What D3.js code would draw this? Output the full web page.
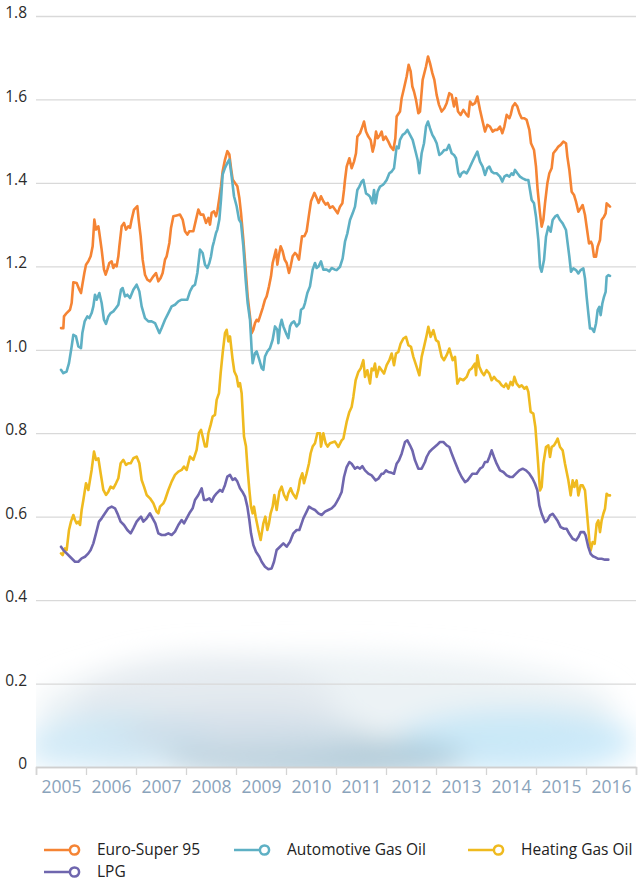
<!DOCTYPE html>
<html>
<head>
<meta charset="utf-8">
<script src="https://cdn.jsdelivr.net/npm/d3@7/dist/d3.min.js"></script>
<style>
  html, body { margin: 0; padding: 0; background: #ffffff; }
  svg { display: block; font-family: "Open Sans", "DejaVu Sans", sans-serif; }
</style>
</head>
<body>
<svg id="chart" width="642" height="883"></svg>
<script>
// Weekly consumer prices (EUR per litre), sampled along each curve.
const euroSuper95 = [
[2005.500,1.052],[2005.547,1.052],[2005.560,1.080],[2005.613,1.088],[2005.680,1.096],[2005.713,1.112],[2005.747,1.162],[2005.813,1.160],[2005.867,1.144],[2005.900,1.136],[2005.927,1.156],[2005.967,1.184],[2006.000,1.204],[2006.047,1.212],[2006.093,1.224],[2006.133,1.248],[2006.167,1.312],[2006.200,1.288],[2006.247,1.296],[2006.267,1.280],[2006.313,1.240],[2006.360,1.192],[2006.393,1.180],[2006.427,1.192],[2006.467,1.208],[2006.513,1.212],[2006.547,1.196],[2006.580,1.204],[2006.613,1.200],[2006.647,1.224],[2006.667,1.248],[2006.713,1.296],[2006.760,1.304],[2006.800,1.288],[2006.847,1.296],[2006.880,1.292],[2006.913,1.312],[2006.960,1.336],[2007.027,1.344],[2007.053,1.312],[2007.093,1.272],[2007.133,1.216],[2007.180,1.180],[2007.227,1.168],[2007.280,1.164],[2007.347,1.176],[2007.400,1.184],[2007.447,1.164],[2007.493,1.172],[2007.533,1.184],[2007.580,1.216],[2007.613,1.224],[2007.667,1.256],[2007.700,1.292],[2007.747,1.320],[2007.813,1.322],[2007.880,1.324],[2007.933,1.312],[2007.980,1.284],[2008.027,1.276],[2008.067,1.284],[2008.147,1.284],
[2008.200,1.312],[2008.247,1.336],[2008.293,1.324],[2008.347,1.324],[2008.400,1.304],[2008.447,1.316],[2008.480,1.300],[2008.513,1.328],[2008.560,1.332],[2008.600,1.320],[2008.627,1.332],[2008.667,1.364],[2008.700,1.392],[2008.733,1.428],[2008.780,1.456],[2008.827,1.476],[2008.867,1.468],[2008.900,1.436],[2008.933,1.408],[2008.980,1.400],[2009.027,1.392],[2009.067,1.364],[2009.100,1.328],[2009.147,1.264],[2009.193,1.192],[2009.233,1.128],[2009.280,1.080],[2009.313,1.040],[2009.347,1.048],[2009.380,1.064],[2009.413,1.072],[2009.447,1.068],[2009.480,1.080],[2009.533,1.100],[2009.580,1.120],[2009.613,1.128],[2009.660,1.152],[2009.700,1.176],[2009.733,1.208],[2009.767,1.224],[2009.800,1.240],[2009.827,1.204],[2009.853,1.224],[2009.893,1.248],[2009.933,1.236],[2009.973,1.216],[2010.013,1.208],[2010.060,1.184],[2010.093,1.200],[2010.133,1.224],[2010.180,1.232],[2010.213,1.228],[2010.260,1.216],[2010.293,1.248],[2010.320,1.272],[2010.367,1.272],[2010.413,1.284],[2010.460,1.324],[2010.500,1.356],[2010.567,1.376],[2010.613,1.364],[2010.653,1.352],[2010.700,1.368],[2010.747,1.356],[2010.793,1.348],[2010.833,1.352],[2010.880,1.340],[2010.933,1.344],[2010.980,1.336],
[2011.033,1.327],[2011.080,1.343],[2011.127,1.351],[2011.160,1.383],[2011.180,1.407],[2011.213,1.439],[2011.267,1.459],[2011.313,1.435],[2011.360,1.451],[2011.400,1.471],[2011.427,1.511],[2011.480,1.519],[2011.527,1.535],[2011.560,1.547],[2011.600,1.523],[2011.647,1.511],[2011.693,1.503],[2011.733,1.475],[2011.767,1.491],[2011.800,1.523],[2011.833,1.507],[2011.880,1.515],[2011.913,1.523],[2011.947,1.503],[2011.993,1.511],[2012.047,1.499],[2012.093,1.487],[2012.147,1.479],[2012.187,1.507],[2012.213,1.559],[2012.280,1.571],[2012.313,1.603],[2012.360,1.627],[2012.413,1.655],[2012.453,1.683],[2012.493,1.667],[2012.527,1.631],[2012.560,1.619],[2012.600,1.599],[2012.647,1.567],[2012.680,1.571],[2012.733,1.647],[2012.800,1.679],[2012.840,1.703],[2012.880,1.687],[2012.927,1.663],[2012.967,1.647],[2013.013,1.611],[2013.060,1.587],[2013.113,1.571],[2013.167,1.579],[2013.213,1.591],[2013.267,1.615],[2013.313,1.611],[2013.360,1.583],[2013.400,1.603],[2013.440,1.571],[2013.493,1.563],[2013.547,1.575],[2013.613,1.563],[2013.647,1.559],[2013.680,1.595],[2013.727,1.587],[2013.780,1.591],
[2013.827,1.607],[2013.880,1.575],[2013.933,1.547],[2013.980,1.523],[2014.027,1.539],[2014.080,1.535],[2014.133,1.523],[2014.180,1.527],[2014.227,1.527],[2014.280,1.535],[2014.327,1.519],[2014.367,1.535],[2014.413,1.563],[2014.467,1.555],[2014.493,1.563],[2014.533,1.583],[2014.580,1.591],[2014.627,1.583],[2014.667,1.567],[2014.713,1.555],[2014.767,1.555],[2014.813,1.551],[2014.867,1.527],[2014.900,1.495],[2014.960,1.479],[2015.000,1.439],[2015.033,1.383],[2015.080,1.327],[2015.113,1.295],[2015.147,1.311],[2015.180,1.351],[2015.227,1.399],[2015.267,1.423],[2015.313,1.435],[2015.347,1.471],[2015.400,1.479],[2015.447,1.487],[2015.493,1.491],[2015.547,1.499],[2015.600,1.495],[2015.627,1.463],[2015.667,1.431],[2015.713,1.379],[2015.760,1.371],[2015.800,1.355],[2015.847,1.331],[2015.893,1.339],[2015.933,1.347],[2015.980,1.323],[2016.013,1.295],[2016.060,1.255],[2016.100,1.259],[2016.127,1.251],[2016.160,1.223],[2016.200,1.223],[2016.233,1.247],[2016.280,1.263],[2016.313,1.311],[2016.360,1.319],[2016.393,1.327],[2016.413,1.351],[2016.447,1.347],[2016.480,1.343]
];

const automotiveGasOil = [
[2005.500,0.952],[2005.547,0.944],[2005.613,0.948],[2005.660,0.968],[2005.713,1.008],[2005.747,1.036],[2005.800,1.032],[2005.847,1.008],[2005.900,1.004],[2005.927,1.040],[2005.973,1.068],[2006.027,1.080],[2006.067,1.076],[2006.113,1.088],[2006.147,1.104],[2006.180,1.132],[2006.213,1.120],[2006.267,1.136],[2006.313,1.112],[2006.360,1.072],[2006.400,1.062],[2006.447,1.080],[2006.493,1.088],[2006.547,1.092],[2006.600,1.100],[2006.647,1.108],[2006.700,1.144],[2006.733,1.148],[2006.780,1.128],[2006.827,1.132],[2006.880,1.124],[2006.947,1.144],[2007.013,1.156],[2007.067,1.140],[2007.113,1.104],[2007.180,1.076],[2007.247,1.068],[2007.313,1.068],[2007.380,1.064],[2007.467,1.040],[2007.513,1.052],[2007.580,1.072],[2007.647,1.088],[2007.713,1.104],[2007.780,1.108],[2007.847,1.116],[2007.913,1.120],[2007.980,1.120],[2008.027,1.120],[2008.080,1.140],[2008.133,1.152],
[2008.180,1.156],[2008.227,1.184],[2008.280,1.240],[2008.333,1.232],[2008.380,1.204],[2008.427,1.196],[2008.467,1.208],[2008.500,1.224],[2008.533,1.248],[2008.560,1.260],[2008.600,1.280],[2008.627,1.288],[2008.667,1.312],[2008.700,1.360],[2008.733,1.420],[2008.780,1.436],[2008.827,1.448],[2008.867,1.456],[2008.913,1.416],[2008.960,1.368],[2009.013,1.344],[2009.060,1.312],[2009.100,1.304],[2009.147,1.248],[2009.193,1.168],[2009.233,1.112],[2009.280,1.072],[2009.313,1.000],[2009.333,0.968],[2009.380,0.992],[2009.413,0.996],[2009.467,0.976],[2009.513,0.956],[2009.547,0.952],[2009.580,0.984],[2009.627,0.996],[2009.680,1.004],[2009.733,1.024],[2009.780,1.056],[2009.827,1.048],[2009.847,1.016],[2009.880,1.056],[2009.913,1.072],[2009.947,1.056],[2010.000,1.040],[2010.047,1.028],[2010.080,1.056],[2010.113,1.064],[2010.160,1.068],[2010.213,1.056],[2010.267,1.064],[2010.300,1.096],[2010.347,1.100],[2010.380,1.112],[2010.427,1.136],[2010.480,1.152],[2010.533,1.192],[2010.580,1.208],[2010.613,1.196],[2010.653,1.200],[2010.700,1.212],[2010.747,1.192],[2010.813,1.192],[2010.867,1.188],[2010.913,1.196],[2010.980,1.192],
[2011.013,1.191],[2011.080,1.199],[2011.133,1.219],[2011.180,1.259],[2011.227,1.279],[2011.280,1.311],[2011.333,1.327],[2011.380,1.343],[2011.427,1.383],[2011.467,1.391],[2011.513,1.403],[2011.547,1.407],[2011.600,1.375],[2011.647,1.371],[2011.680,1.367],[2011.727,1.351],[2011.760,1.383],[2011.793,1.351],[2011.833,1.379],[2011.880,1.391],[2011.933,1.395],[2011.967,1.399],[2012.013,1.407],[2012.067,1.423],[2012.113,1.427],[2012.160,1.435],[2012.213,1.487],[2012.253,1.483],[2012.280,1.503],[2012.333,1.515],[2012.380,1.519],[2012.427,1.527],[2012.480,1.515],[2012.533,1.503],[2012.600,1.471],[2012.633,1.455],[2012.667,1.423],[2012.713,1.471],[2012.760,1.495],[2012.800,1.535],[2012.840,1.547],[2012.880,1.531],[2012.927,1.515],[2012.967,1.507],[2013.013,1.495],[2013.067,1.467],[2013.113,1.471],[2013.167,1.479],[2013.213,1.479],[2013.260,1.491],[2013.313,1.471],[2013.360,1.467],[2013.400,1.459],[2013.447,1.423],[2013.480,1.415],[2013.513,1.423],[2013.560,1.427],[2013.613,1.423],[2013.667,1.435],[2013.713,1.447],[2013.760,1.459],
[2013.827,1.475],[2013.880,1.451],[2013.933,1.439],[2013.980,1.419],[2014.027,1.435],[2014.067,1.439],[2014.113,1.427],[2014.160,1.423],[2014.213,1.423],[2014.280,1.415],[2014.327,1.403],[2014.367,1.415],[2014.413,1.419],[2014.467,1.415],[2014.513,1.423],[2014.547,1.419],[2014.580,1.431],[2014.627,1.423],[2014.680,1.415],[2014.733,1.411],[2014.800,1.407],[2014.847,1.407],[2014.880,1.383],[2014.913,1.359],[2014.960,1.351],[2015.000,1.319],[2015.047,1.263],[2015.080,1.199],[2015.113,1.187],[2015.160,1.215],[2015.200,1.271],[2015.247,1.295],[2015.293,1.283],[2015.333,1.311],[2015.380,1.319],[2015.427,1.323],[2015.480,1.311],[2015.533,1.303],[2015.600,1.287],[2015.633,1.255],[2015.667,1.223],[2015.700,1.187],[2015.747,1.195],[2015.800,1.191],[2015.847,1.183],[2015.893,1.191],[2015.947,1.195],[2015.980,1.171],[2016.013,1.127],[2016.047,1.087],[2016.080,1.051],[2016.120,1.051],[2016.160,1.043],[2016.200,1.063],[2016.233,1.095],[2016.267,1.103],[2016.293,1.083],[2016.327,1.111],[2016.360,1.127],[2016.393,1.139],[2016.413,1.175],[2016.447,1.179],[2016.480,1.177]
];

const heatingGasOil = [
[2005.500,0.512],[2005.533,0.508],[2005.580,0.524],[2005.613,0.520],[2005.660,0.568],[2005.700,0.588],[2005.747,0.604],[2005.780,0.592],[2005.813,0.584],[2005.847,0.588],[2005.880,0.580],[2005.913,0.616],[2005.947,0.640],[2006.000,0.680],[2006.047,0.664],[2006.080,0.688],[2006.113,0.712],[2006.160,0.756],[2006.200,0.736],[2006.247,0.740],[2006.293,0.704],[2006.347,0.664],[2006.400,0.652],[2006.447,0.660],[2006.493,0.672],[2006.547,0.668],[2006.600,0.680],[2006.647,0.692],[2006.693,0.728],[2006.747,0.736],[2006.800,0.724],[2006.847,0.728],[2006.893,0.728],[2006.947,0.740],[2007.013,0.744],[2007.067,0.728],[2007.113,0.688],[2007.160,0.672],[2007.213,0.652],[2007.280,0.644],[2007.347,0.632],[2007.413,0.612],[2007.447,0.608],[2007.480,0.624],[2007.547,0.632],[2007.580,0.640],[2007.647,0.664],[2007.713,0.684],[2007.780,0.700],[2007.847,0.708],[2007.913,0.712],[2007.960,0.720],[2008.013,0.712],[2008.080,0.744],[2008.147,0.736],
[2008.213,0.760],[2008.260,0.800],[2008.300,0.808],[2008.333,0.792],[2008.380,0.768],[2008.413,0.768],[2008.447,0.800],[2008.493,0.820],[2008.533,0.840],[2008.580,0.844],[2008.613,0.880],[2008.660,0.896],[2008.693,0.944],[2008.733,0.992],[2008.780,1.040],[2008.813,1.048],[2008.847,1.020],[2008.880,1.032],[2008.933,0.976],[2008.967,0.948],[2009.013,0.936],[2009.047,0.912],[2009.080,0.920],[2009.113,0.896],[2009.160,0.792],[2009.200,0.768],[2009.233,0.712],[2009.267,0.664],[2009.300,0.624],[2009.333,0.608],[2009.360,0.624],[2009.393,0.600],[2009.447,0.568],[2009.493,0.544],[2009.547,0.584],[2009.587,0.600],[2009.627,0.568],[2009.660,0.584],[2009.693,0.608],[2009.733,0.624],[2009.767,0.652],[2009.813,0.616],[2009.867,0.660],[2009.913,0.672],[2009.960,0.652],[2010.013,0.640],[2010.047,0.656],[2010.093,0.668],[2010.133,0.656],[2010.200,0.644],[2010.247,0.664],[2010.280,0.688],[2010.327,0.704],[2010.360,0.680],[2010.413,0.704],[2010.460,0.728],[2010.493,0.752],[2010.533,0.768],[2010.580,0.776],[2010.627,0.800],[2010.680,0.800],[2010.700,0.768],[2010.747,0.800],[2010.793,0.776],[2010.833,0.768],[2010.880,0.776],[2010.980,0.780],
[2011.047,0.767],[2011.113,0.783],[2011.147,0.787],[2011.180,0.807],[2011.213,0.827],[2011.267,0.851],[2011.313,0.863],[2011.347,0.887],[2011.393,0.927],[2011.447,0.947],[2011.493,0.955],[2011.547,0.975],[2011.580,0.935],[2011.627,0.951],[2011.680,0.919],[2011.713,0.955],[2011.747,0.951],[2011.780,0.967],[2011.813,0.935],[2011.867,0.959],[2011.913,0.951],[2011.960,0.943],[2012.013,0.963],[2012.067,0.975],[2012.113,0.991],[2012.160,0.963],[2012.200,0.991],[2012.247,0.995],[2012.293,1.015],[2012.347,1.027],[2012.400,1.031],[2012.447,1.011],[2012.500,1.007],[2012.547,0.983],[2012.613,0.959],[2012.667,0.939],[2012.713,0.983],[2012.760,1.007],[2012.813,1.035],[2012.847,1.055],[2012.893,1.031],[2012.947,1.047],[2013.000,1.023],[2013.047,1.019],[2013.113,0.983],[2013.160,0.975],[2013.213,0.987],[2013.267,1.003],[2013.333,0.975],[2013.380,0.983],[2013.427,0.919],[2013.480,0.931],[2013.547,0.927],[2013.613,0.935],[2013.667,0.951],[2013.713,0.955],[2013.780,0.967],
[2013.800,0.939],[2013.827,0.987],[2013.867,0.959],[2013.913,0.947],[2013.960,0.939],[2014.013,0.951],[2014.067,0.943],[2014.113,0.927],[2014.160,0.935],[2014.213,0.927],[2014.267,0.923],[2014.313,0.915],[2014.360,0.911],[2014.400,0.919],[2014.447,0.907],[2014.493,0.923],[2014.533,0.915],[2014.567,0.935],[2014.613,0.919],[2014.667,0.911],[2014.713,0.915],[2014.767,0.907],[2014.813,0.911],[2014.847,0.899],[2014.893,0.851],[2014.947,0.847],[2014.987,0.815],[2015.033,0.743],[2015.080,0.663],[2015.113,0.671],[2015.147,0.727],[2015.200,0.767],[2015.247,0.771],[2015.280,0.743],[2015.313,0.767],[2015.360,0.771],[2015.400,0.779],[2015.433,0.787],[2015.480,0.767],[2015.533,0.759],[2015.580,0.727],[2015.647,0.687],[2015.693,0.651],[2015.733,0.687],[2015.767,0.671],[2015.813,0.687],[2015.847,0.651],[2015.893,0.675],[2015.933,0.675],[2015.980,0.663],[2016.027,0.599],[2016.067,0.543],[2016.093,0.519],[2016.133,0.539],[2016.173,0.535],[2016.213,0.583],[2016.247,0.591],[2016.280,0.563],[2016.313,0.591],[2016.347,0.607],[2016.380,0.619],[2016.413,0.655],[2016.447,0.651],[2016.480,0.651]
];

const lpg = [
[2005.500,0.528],[2005.547,0.520],[2005.613,0.512],[2005.680,0.504],[2005.780,0.492],[2005.847,0.492],[2005.913,0.500],[2005.980,0.504],[2006.047,0.512],[2006.093,0.520],[2006.147,0.536],[2006.200,0.560],[2006.260,0.588],[2006.313,0.596],[2006.380,0.608],[2006.447,0.620],[2006.513,0.624],[2006.580,0.620],[2006.627,0.608],[2006.693,0.588],[2006.760,0.580],[2006.827,0.568],[2006.893,0.560],[2006.947,0.572],[2007.013,0.588],[2007.067,0.596],[2007.100,0.600],[2007.147,0.588],[2007.213,0.596],[2007.280,0.608],[2007.333,0.596],[2007.387,0.584],[2007.447,0.560],[2007.513,0.556],[2007.580,0.556],[2007.647,0.560],[2007.713,0.556],[2007.780,0.564],[2007.847,0.580],[2007.913,0.592],[2007.960,0.584],[2008.013,0.596],[2008.067,0.608],[2008.133,0.620],
[2008.180,0.640],[2008.247,0.652],[2008.313,0.668],[2008.360,0.640],[2008.413,0.640],[2008.467,0.644],[2008.513,0.636],[2008.560,0.648],[2008.613,0.656],[2008.680,0.664],[2008.727,0.660],[2008.780,0.676],[2008.827,0.696],[2008.880,0.700],[2008.933,0.688],[2008.980,0.692],[2009.027,0.684],[2009.080,0.668],[2009.127,0.660],[2009.180,0.648],[2009.227,0.624],[2009.267,0.592],[2009.300,0.560],[2009.347,0.532],[2009.400,0.516],[2009.467,0.504],[2009.513,0.492],[2009.580,0.480],[2009.647,0.474],[2009.713,0.476],[2009.760,0.492],[2009.813,0.520],[2009.880,0.528],[2009.947,0.536],[2010.013,0.528],[2010.080,0.540],[2010.147,0.560],[2010.213,0.568],[2010.267,0.568],[2010.313,0.584],[2010.347,0.596],[2010.413,0.612],[2010.460,0.624],[2010.513,0.620],[2010.580,0.616],[2010.647,0.608],[2010.713,0.604],[2010.780,0.612],[2010.847,0.616],[2010.913,0.620],[2010.980,0.628],
[2011.013,0.635],[2011.067,0.647],[2011.113,0.659],[2011.160,0.695],[2011.213,0.719],[2011.267,0.731],[2011.313,0.727],[2011.380,0.715],[2011.427,0.719],[2011.480,0.715],[2011.527,0.721],[2011.580,0.711],[2011.647,0.703],[2011.713,0.699],[2011.793,0.687],[2011.847,0.691],[2011.913,0.703],[2011.947,0.703],[2012.000,0.711],[2012.047,0.707],[2012.113,0.705],[2012.160,0.703],[2012.213,0.727],[2012.260,0.735],[2012.313,0.751],[2012.380,0.779],[2012.427,0.783],[2012.480,0.771],[2012.527,0.759],[2012.580,0.735],[2012.647,0.715],[2012.713,0.715],[2012.780,0.731],[2012.813,0.743],[2012.867,0.755],[2012.933,0.763],[2013.013,0.771],[2013.080,0.779],[2013.147,0.779],[2013.213,0.771],[2013.267,0.767],[2013.327,0.747],[2013.380,0.731],[2013.447,0.711],[2013.513,0.695],[2013.580,0.683],[2013.633,0.687],[2013.680,0.695],[2013.727,0.703],[2013.780,0.703],
[2013.813,0.703],[2013.880,0.715],[2013.933,0.719],[2013.980,0.731],[2014.027,0.731],[2014.067,0.743],[2014.113,0.759],[2014.160,0.743],[2014.213,0.727],[2014.280,0.711],[2014.347,0.707],[2014.413,0.699],[2014.480,0.695],[2014.533,0.695],[2014.600,0.703],[2014.667,0.711],[2014.733,0.715],[2014.800,0.711],[2014.867,0.703],[2014.933,0.691],[2014.980,0.679],[2015.027,0.663],[2015.067,0.627],[2015.113,0.607],[2015.180,0.587],[2015.227,0.591],[2015.280,0.603],[2015.333,0.607],[2015.380,0.599],[2015.427,0.591],[2015.493,0.575],[2015.560,0.571],[2015.613,0.571],[2015.667,0.559],[2015.733,0.547],[2015.800,0.543],[2015.847,0.551],[2015.893,0.563],[2015.960,0.563],[2015.993,0.555],[2016.047,0.527],[2016.093,0.511],[2016.140,0.505],[2016.180,0.503],[2016.247,0.499],[2016.313,0.499],[2016.380,0.497],[2016.447,0.497]
];

const seriesNames = ["Euro-Super 95", "Automotive Gas Oil", "Heating Gas Oil", "LPG"];
const seriesColors = ["#f58434", "#5eb0c4", "#efba1f", "#6f66ae"];
const yearLabels = ["2005","2006","2007","2008","2009","2010","2011","2012","2013","2014","2015","2016"];
const yTickValues = [0, 0.2, 0.4, 0.6, 0.8, 1.0, 1.2, 1.4, 1.6, 1.8];
const yTickLabels = ["0", "0.2", "0.4", "0.6", "0.8", "1.0", "1.2", "1.4", "1.6", "1.8"];

const svg = d3.select("#chart");
const plot = { left: 36, right: 636, top: 16, bottom: 767 };

const x = d3.scaleLinear().domain([2005, 2017]).range([plot.left, plot.right]);
const y = d3.scaleLinear().domain([0, 1.8]).range([plot.bottom, plot.top]);

// Soft blurred wash along the floor of the plot
const defs = svg.append("defs");
defs.append("filter").attr("id", "soft").attr("x", "-30%").attr("y", "-60%").attr("width", "160%").attr("height", "220%")
  .append("feGaussianBlur").attr("stdDeviation", 14);
defs.append("clipPath").attr("id", "floorClip")
  .append("rect").attr("x", plot.left).attr("y", y(0.42)).attr("width", plot.right - plot.left).attr("height", y(0) - y(0.42));

const washBlobs = [
  { t: 2010.8, v: 0.14, rx: 290, ry: 55, c: "#e6edf2", o: 0.75 },
  { t: 2008.4, v: 0.16, rx: 130, ry: 45, c: "#dfe6ec", o: 0.6 },
  { t: 2006.8, v: 0.06, rx: 90, ry: 30, c: "#c8e3f2", o: 0.8 },
  { t: 2014.6, v: 0.06, rx: 120, ry: 32, c: "#c3e6f8", o: 0.85 },
  { t: 2010.6, v: 0.02, rx: 150, ry: 22, c: "#9dbdcf", o: 0.75 },
  { t: 2009.2, v: 0.08, rx: 120, ry: 26, c: "#cfdde7", o: 0.7 },
  { t: 2005.5, v: 0.05, rx: 40, ry: 22, c: "#d2ebf7", o: 0.8 }
];
svg.append("g").attr("clip-path", "url(#floorClip)")
  .append("g").attr("filter", "url(#soft)")
  .selectAll("ellipse").data(washBlobs).join("ellipse")
  .attr("cx", d => x(d.t)).attr("cy", d => y(d.v))
  .attr("rx", d => d.rx).attr("ry", d => d.ry)
  .attr("fill", d => d.c).attr("opacity", d => d.o);

// Horizontal gridlines with value labels
const yAxis = d3.axisLeft(y)
  .tickValues(yTickValues)
  .tickSize(-(plot.right - plot.left))
  .tickPadding(9)
  .tickFormat((d, i) => yTickLabels[i]);
const gy = svg.append("g").attr("transform", `translate(${plot.left},0)`).call(yAxis);
gy.select(".domain").remove();
gy.selectAll(".tick line").attr("stroke", "#d9d9d9").attr("stroke-width", 1.3);
gy.selectAll(".tick").filter(d => d === 0).select("line").attr("stroke", "#cfcfcf").attr("stroke-width", 1.6);
gy.selectAll(".tick text")
  .attr("fill", "#2b2b2b").attr("font-size", 15.5).attr("dy", "0.1em")
  .style("font-family", "'Open Sans', sans-serif");

// Year bands along the bottom
const yearEdges = d3.range(2005, 2018);
const xTicks = d3.axisBottom(x).tickValues(yearEdges).tickSize(8).tickFormat("");
const gx = svg.append("g").attr("transform", `translate(0,${plot.bottom})`).call(xTicks);
gx.select(".domain").attr("stroke", "#cfcfcf").attr("stroke-width", 1.6);
gx.selectAll(".tick line").attr("stroke", "#d4d4d4").attr("stroke-width", 1.3);

const xLabels = d3.axisBottom(x)
  .tickValues(yearLabels.map(s => +s + 0.5))
  .tickSize(0).tickPadding(14)
  .tickFormat((d, i) => yearLabels[i]);
const gxl = svg.append("g").attr("transform", `translate(0,${plot.bottom})`).call(xLabels);
gxl.select(".domain").remove();
gxl.selectAll(".tick text")
  .attr("fill", "#8aa3bb").attr("font-size", 17.5)
  .style("font-family", "'Open Sans', sans-serif");

// Price curves
const line = d3.line().x(d => x(d[0])).y(d => y(d[1])).curve(d3.curveLinear);
const allSeries = [euroSuper95, automotiveGasOil, heatingGasOil, lpg];
svg.append("g").selectAll("path").data(allSeries).join("path")
  .attr("d", line)
  .attr("fill", "none")
  .attr("stroke", (d, i) => seriesColors[i])
  .attr("stroke-width", 2.6)
  .attr("stroke-linejoin", "round")
  .attr("stroke-linecap", "round");

// Legend
const legendSlots = [
  { col: 44, row: 850 }, { col: 234, row: 850 }, { col: 468, row: 850 }, { col: 44, row: 872 }
];
const lg = svg.append("g").selectAll("g").data(seriesNames).join("g")
  .attr("transform", (d, i) => `translate(${legendSlots[i].col},${legendSlots[i].row})`);
lg.append("line").attr("x1", 0).attr("x2", 26).attr("y1", 0).attr("y2", 0)
  .attr("stroke", (d, i) => seriesColors[i]).attr("stroke-width", 2.5);
lg.append("circle").attr("cx", 30.5).attr("cy", 0).attr("r", 4.6)
  .attr("fill", "#fff").attr("stroke", (d, i) => seriesColors[i]).attr("stroke-width", 2.5);
lg.append("text").attr("x", 53).attr("y", 0).attr("dy", "0.35em")
  .attr("fill", "#222").attr("font-size", 15.5)
  .style("font-family", "'Open Sans', sans-serif")
  .text(d => d);
</script>
</body>
</html>
